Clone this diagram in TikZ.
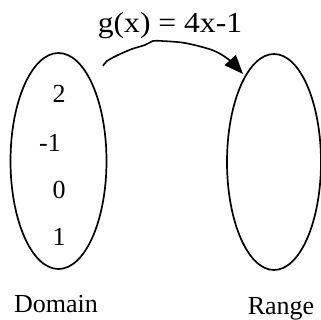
\documentclass[tikz,border=0pt]{standalone}
\usepackage{fontspec}
\setmainfont{Liberation Serif}
\usetikzlibrary{shapes.geometric,arrows.meta}
\begin{document}
\begin{tikzpicture}[x=1pt,y=-1pt,
  setoval/.style={draw,ellipse,line width=1.7pt,inner sep=0pt,minimum width=96pt,minimum height=216pt},
  lbl/.style={anchor=base,inner sep=0pt,font=\fontsize{26}{30}\selectfont},
  ttl/.style={anchor=base,inner sep=0pt,font=\fontsize{29}{33}\selectfont},
  maparrow/.style={line width=1.6pt,-{Triangle[length=19pt,width=15pt]}}]
\useasboundingbox (0,0) rectangle (320,320);
\node[setoval] (dom) at (58.5,161) {};
\node[setoval,minimum width=94pt] (ran) at (274,162) {};
\node[lbl] (v2) at (59,103) {2};
\node[lbl] (vm1) at (50,151) {-1};
\node[lbl] (v0) at (59,198) {0};
\node[lbl] (v1) at (59,245) {1};
\node[lbl] (dl) at (56,312) {Domain};
\node[lbl] (rl) at (281,314) {Range};
\node[ttl] (title) at (170,33) {\scalebox{1.09}[1]{g(x) = 4x-1}};
\coordinate (s) at (103,66);
\coordinate (t) at (243,74);
\draw[maparrow] plot[smooth,tension=0.5] coordinates {(s) (107,61) (118,55) (132,49) (145,45) (153,41) (162,41) (185,43) (212,50) (228,59) (t)};
\end{tikzpicture}
\end{document}
